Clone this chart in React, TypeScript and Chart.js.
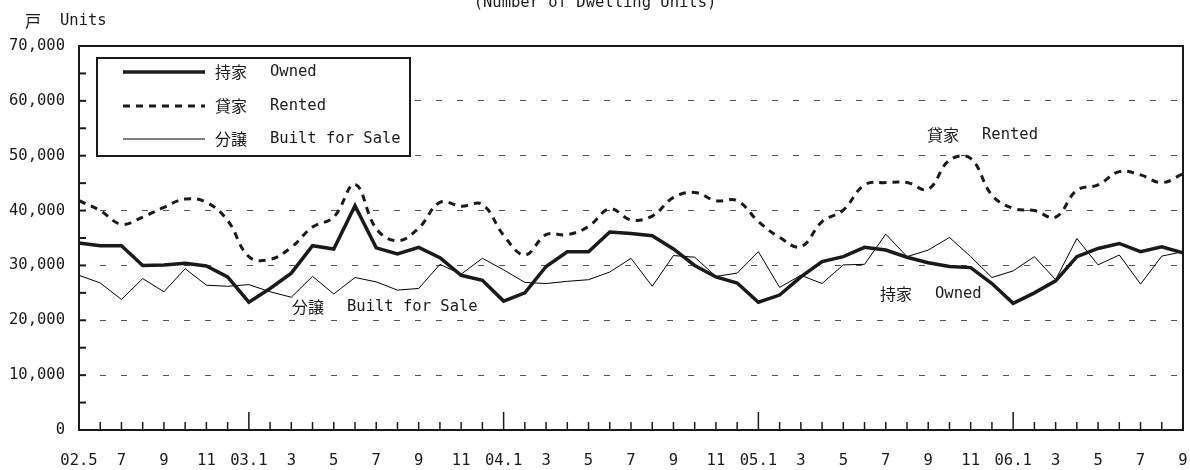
import React, { useEffect, useRef } from 'react';
import { Chart, registerables } from 'chart.js';

Chart.register(...registerables);

const months = [
  '2002-05', '2002-06', '2002-07', '2002-08', '2002-09', '2002-10', '2002-11', '2002-12',
  '2003-01', '2003-02', '2003-03', '2003-04', '2003-05', '2003-06', '2003-07', '2003-08', '2003-09', '2003-10', '2003-11', '2003-12',
  '2004-01', '2004-02', '2004-03', '2004-04', '2004-05', '2004-06', '2004-07', '2004-08', '2004-09', '2004-10', '2004-11', '2004-12',
  '2005-01', '2005-02', '2005-03', '2005-04', '2005-05', '2005-06', '2005-07', '2005-08', '2005-09', '2005-10', '2005-11', '2005-12',
  '2006-01', '2006-02', '2006-03', '2006-04', '2006-05', '2006-06', '2006-07', '2006-08', '2006-09',
];

const tickLabels = [
  '02.5', '', '7', '', '9', '', '11', '',
  '03.1', '', '3', '', '5', '', '7', '', '9', '', '11', '',
  '04.1', '', '3', '', '5', '', '7', '', '9', '', '11', '',
  '05.1', '', '3', '', '5', '', '7', '', '9', '', '11', '',
  '06.1', '', '3', '', '5', '', '7', '', '9',
];

const owned = [
  34100, 33600, 33600, 30000, 30100, 30400, 29900, 27900,
  23300, 25800, 28600, 33600, 33000, 40900, 33200, 32100, 33300, 31400, 28200, 27300,
  23500, 25000, 29800, 32500, 32500, 36100, 35800, 35400, 33000, 30000, 27900, 26800,
  23300, 24600, 27900, 30700, 31600, 33300, 32800, 31500, 30500, 29800, 29600, 26700,
  23100, 25000, 27200, 31600, 33100, 34000, 32500, 33400, 32300,
];

const rented = [
  41800, 40000, 37500, 38800, 40600, 42100, 41500, 38200,
  31600, 31100, 33300, 37000, 38800, 44800, 36700, 34500, 36800, 41500, 40800, 41100,
  35500, 31900, 35600, 35600, 37100, 40300, 38300, 39000, 42400, 43300, 41800, 41800,
  38000, 35100, 33400, 38000, 40100, 44700, 45100, 45100, 43900, 49200, 49500, 42800,
  40400, 40000, 38800, 43700, 44700, 47100, 46500, 45100, 46700,
];

const builtForSale = [
  28200, 26800, 23800, 27600, 25200, 29400, 26400, 26200,
  26500, 25200, 24200, 28000, 24800, 27800, 27000, 25500, 25800, 30200, 28400, 31300,
  29200, 26900, 26700, 27100, 27400, 28800, 31300, 26200, 31800, 31500, 28000, 28600,
  32500, 26000, 28200, 26700, 30100, 30200, 35700, 31600, 32800, 35100, 31600, 27800,
  29000, 31600, 27400, 34900, 30100, 31900, 26600, 31700, 32500,
];

const seriesNames = [
  { jp: '持家', en: 'Owned' },
  { jp: '貸家', en: 'Rented' },
  { jp: '分譲', en: 'Built for Sale' },
];

const MONO = "'DejaVu Sans Mono', 'Noto Sans CJK JP', monospace";
const CJK = "'Noto Sans CJK JP', sans-serif";
const INK = '#1a1a1a';

function drawPair(ctx: CanvasRenderingContext2D, jp: string, en: string, xJp: number, xEn: number, y: number) {
  ctx.fillStyle = INK;
  ctx.textBaseline = 'middle';
  ctx.textAlign = 'left';
  ctx.font = `16px ${CJK}`;
  ctx.fillText(jp, xJp, y);
  ctx.font = `15.5px ${MONO}`;
  ctx.fillText(en, xEn, y);
}

const decorPlugin = {
  id: 'decor',
  afterDraw(chart: any) {
    const { ctx, chartArea: a, scales } = chart;
    const xs = scales.x;
    const ys = scales.y;
    ctx.save();
    ctx.setLineDash([]);
    ctx.strokeStyle = INK;

    // x ticks (inward)
    ctx.lineWidth = 1.5;
    months.forEach((m, i) => {
      const px = xs.getPixelForValue(i);
      const len = m.endsWith('-01') ? 18 : 8;
      ctx.beginPath();
      ctx.moveTo(px, a.bottom);
      ctx.lineTo(px, a.bottom - len);
      ctx.stroke();
    });
    // y ticks (inward)
    ctx.lineWidth = 2;
    ys.ticks.forEach((t: any) => {
      const py = ys.getPixelForValue(t.value);
      ctx.beginPath();
      ctx.moveTo(a.left, py);
      ctx.lineTo(a.left + 7, py);
      ctx.stroke();
    });

    // frame
    ctx.lineWidth = 2;
    ctx.strokeRect(a.left, a.top, a.right - a.left, a.bottom - a.top);

    // legend box
    ctx.fillStyle = '#ffffff';
    ctx.fillRect(97, 58, 313, 98);
    ctx.lineWidth = 2;
    ctx.strokeStyle = INK;
    ctx.strokeRect(97, 58, 313, 98);
    const rows = [72, 106, 139];
    chart.data.datasets.forEach((ds: any, i: number) => {
      const y = rows[i];
      ctx.save();
      ctx.strokeStyle = ds.borderColor;
      ctx.lineWidth = ds.borderWidth;
      ctx.setLineDash(ds.borderDash || []);
      ctx.beginPath();
      ctx.moveTo(123, y);
      ctx.lineTo(205, y);
      ctx.stroke();
      ctx.restore();
      drawPair(ctx, seriesNames[i].jp, seriesNames[i].en, 215, 270, y);
    });

    // in-plot labels
    drawPair(ctx, seriesNames[1].jp, seriesNames[1].en, 927, 982, 135);
    drawPair(ctx, seriesNames[0].jp, seriesNames[0].en, 880, 935, 294);
    drawPair(ctx, seriesNames[2].jp, seriesNames[2].en, 292, 347, 307);

    // unit label
    drawPair(ctx, '戸', 'Units', 25, 60, 21);

    // clipped title
    ctx.font = `15.5px ${MONO}`;
    ctx.textAlign = 'center';
    ctx.textBaseline = 'alphabetic';
    ctx.fillStyle = INK;
    ctx.fillText('(Number of Dwelling Units)', 595, 7);
    ctx.restore();
  },
};

export default function App() {
  const ref = useRef<HTMLCanvasElement | null>(null);

  useEffect(() => {
    if (!ref.current) return;
    const chart = new Chart(ref.current, {
      type: 'line',
      data: {
        labels: months,
        datasets: [
          {
            label: '持家 Owned',
            data: owned,
            borderColor: INK,
            borderWidth: 3.5,
            pointRadius: 0,
            tension: 0,
            fill: false,
          },
          {
            label: '貸家 Rented',
            data: rented,
            borderColor: INK,
            borderWidth: 3,
            borderDash: [7, 6],
            pointRadius: 0,
            tension: 0.4,
            fill: false,
          },
          {
            label: '分譲 Built for Sale',
            data: builtForSale,
            borderColor: '#000000',
            borderWidth: 1,
            pointRadius: 0,
            tension: 0,
            fill: false,
          },
        ],
      },
      options: {
        animation: false,
        responsive: false,
        devicePixelRatio: 1,
        layout: { padding: { top: 46, left: 0, right: 7, bottom: 0 } },
        plugins: {
          legend: { display: false },
          tooltip: { enabled: false },
          title: { display: false },
        },
        scales: {
          x: {
            type: 'category',
            offset: false,
            grid: { display: false, drawTicks: false },
            border: { display: false },
            ticks: {
              autoSkip: false,
              maxRotation: 0,
              minRotation: 0,
              padding: 22,
              color: INK,
              font: { family: MONO, size: 15.5 },
              callback: (_v: any, i: number) => tickLabels[i],
            },
            afterFit: (s: any) => {
              s.height = 40;
              s.paddingLeft = 0;
              s.paddingRight = 0;
            },
          },
          y: {
            min: 0,
            max: 70000,
            grid: {
              drawTicks: false,
              lineWidth: 1,
              color: (c: any) => {
                const v = c.tick ? c.tick.value : 0;
                return v % 10000 === 0 && v !== 0 && v !== 70000 ? '#555555' : 'rgba(0,0,0,0)';
              },
            },
            border: { display: false, dash: [6, 15] },
            ticks: {
              stepSize: 5000,
              padding: 14,
              color: INK,
              font: { family: MONO, size: 15.5 },
              callback: (v: any) => (Number(v) % 10000 === 0 ? Number(v).toLocaleString('en-US') : ''),
            },
            afterFit: (s: any) => {
              s.width = 79;
              s.paddingTop = 0;
              s.paddingBottom = 0;
            },
          },
        },
      },
      plugins: [decorPlugin],
    });
    return () => chart.destroy();
  }, []);

  return (
    <div style={{ position: 'absolute', left: 0, top: 0, width: 1190, height: 470, background: '#fff' }}>
      <canvas ref={ref} width={1190} height={470} />
    </div>
  );
}
